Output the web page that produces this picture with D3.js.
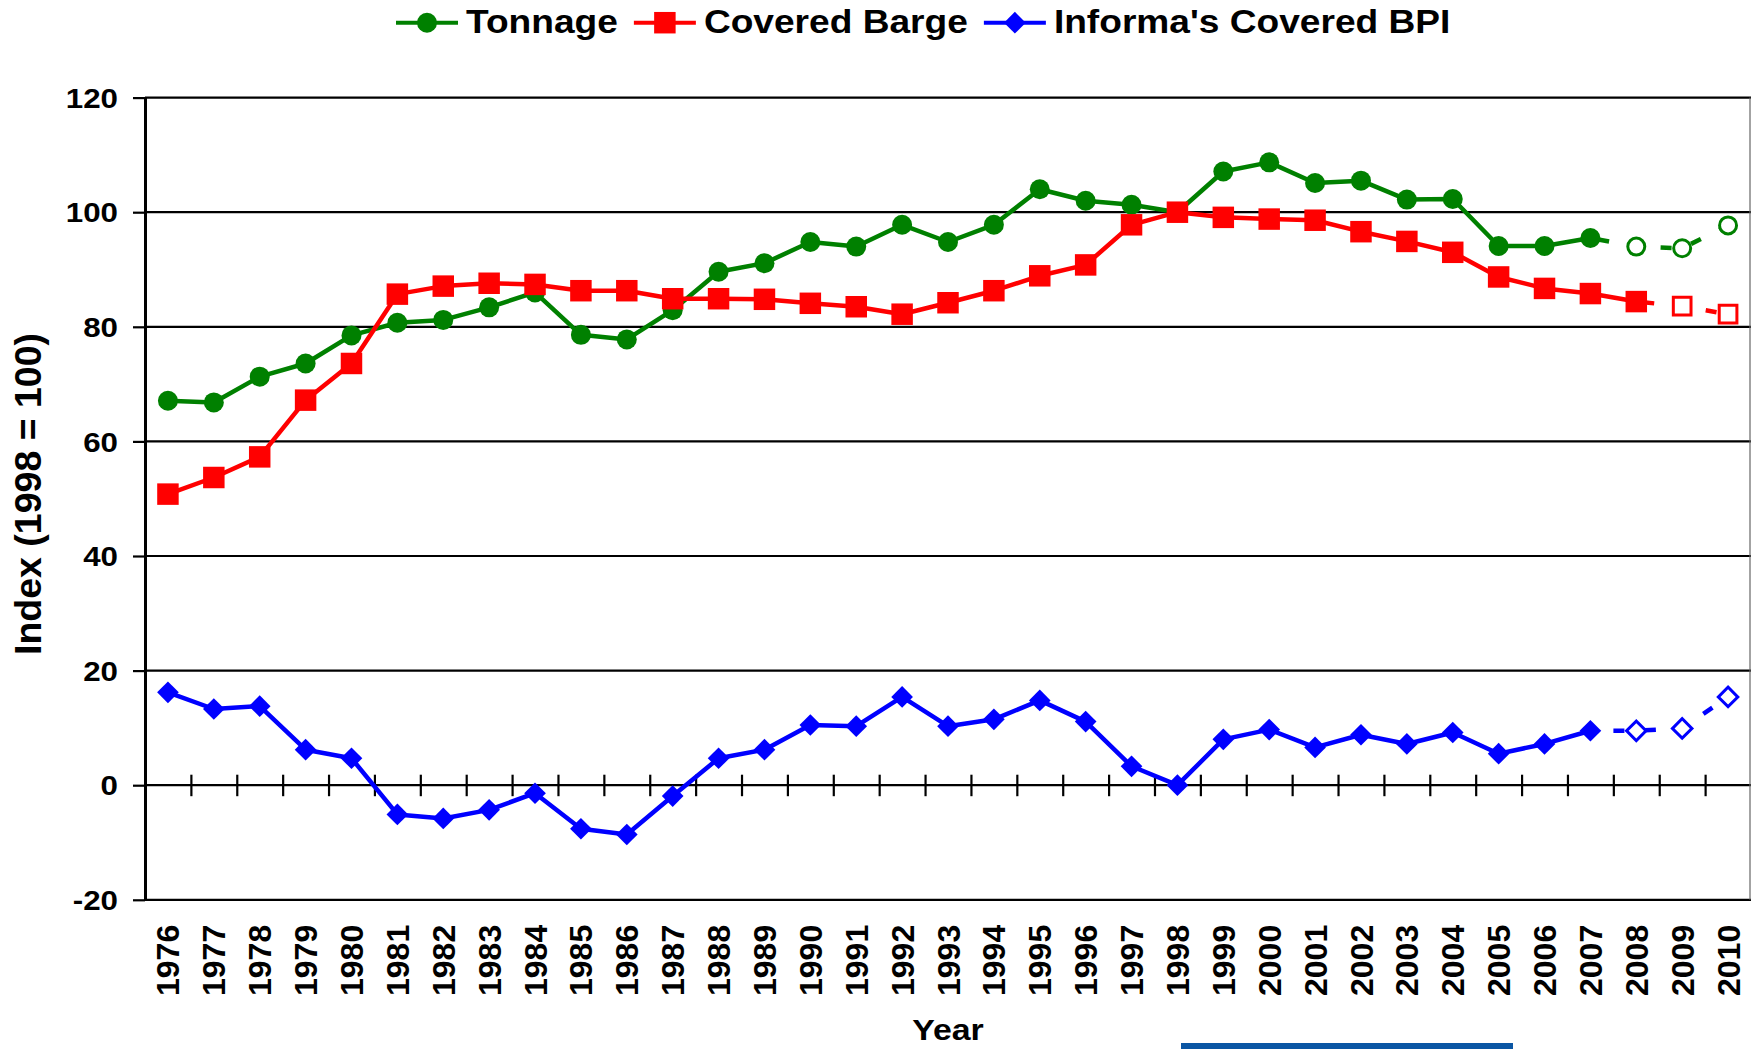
<!DOCTYPE html>
<html>
<head>
<meta charset="utf-8">
<script src="https://cdn.jsdelivr.net/npm/d3@7"></script>
<style>
  body { margin: 0; background: #fff; }
  svg { display: block; }
  text { font-family: "Liberation Sans", Arial, sans-serif; font-weight: bold; fill: #000; }
</style>
</head>
<body>
<div id="chart"></div>
<script>
const years = [1976, 1977, 1978, 1979, 1980, 1981, 1982, 1983, 1984, 1985, 1986, 1987,
    1988, 1989, 1990, 1991, 1992, 1993, 1994, 1995, 1996, 1997, 1998, 1999,
    2000, 2001, 2002, 2003, 2004, 2005, 2006, 2007, 2008, 2009, 2010];

const tonnage = [67.1, 66.8, 71.3, 73.6, 78.5, 80.7, 81.2, 83.4, 86.0, 78.6, 77.8, 82.9,
    89.6, 91.1, 94.8, 94.0, 97.8, 94.8, 97.8, 104.0, 102.0, 101.3, 100.0, 107.1,
    108.7, 105.1, 105.5, 102.2, 102.3, 94.1, 94.1, 95.5, 94.0, 93.7, 97.7];

const coveredBarge = [50.8, 53.7, 57.3, 67.2, 73.6, 85.7, 87.1, 87.6, 87.4, 86.3, 86.3, 84.9,
    84.9, 84.8, 84.1, 83.5, 82.2, 84.2, 86.3, 88.9, 90.8, 97.8, 100.0, 99.1,
    98.8, 98.6, 96.6, 94.9, 93.0, 88.7, 86.7, 85.8, 84.4, 83.6, 82.2];

const coveredBpi = [16.2, 13.3, 13.8, 6.2, 4.7, -5.1, -5.8, -4.3, -1.4, -7.6, -8.6, -1.9,
    4.7, 6.2, 10.5, 10.3, 15.4, 10.3, 11.5, 14.8, 11.1, 3.3, 0.0, 8.0,
    9.7, 6.6, 8.8, 7.2, 9.2, 5.5, 7.2, 9.5, 9.5, 9.9, 15.4];

// last year with actual (non-forecast) values
const tonnageLastActual = 2007;
const bargeLastActual = 2008;
const bpiLastActual = 2007;

const yTicks = [-20, 0, 20, 40, 60, 80, 100, 120];

const width = 1751, height = 1049;
const plotLeft = 145, plotRight = 1751, plotTop = 97.6, plotBottom = 899.8;

const series = [
    { name: "Tonnage", values: tonnage, lastActual: tonnageLastActual, color: "#008000",
      shape: d3.symbolCircle, solidSize: 314, hollowSize: 227, rotate: 0, dashOffset: 23.5 },
    { name: "Covered Barge", values: coveredBarge, lastActual: bargeLastActual, color: "#ff0000",
      shape: d3.symbolSquare, solidSize: 462, hollowSize: 313, rotate: 0, dashOffset: 24.5 },
    { name: "Informa's Covered BPI", values: coveredBpi, lastActual: bpiLastActual, color: "#0000ff",
      shape: d3.symbolSquare, solidSize: 235, hollowSize: 190, rotate: 45, dashOffset: 8.5 }
];

const svg = d3.select("#chart").append("svg")
    .attr("width", width)
    .attr("height", height);

const x = d3.scaleBand().domain(years).range([plotLeft, plotRight]);
const cx = yr => x(yr) + x.bandwidth() / 2;
const y = d3.scaleLinear().domain([-20, 120]).range([plotBottom, plotTop]);

// gridlines
svg.append("g")
    .selectAll("line")
    .data(yTicks)
    .join("line")
    .attr("x1", plotLeft)
    .attr("x2", plotRight)
    .attr("y1", d => y(d))
    .attr("y2", d => y(d))
    .attr("stroke", "#000")
    .attr("stroke-width", 2.2);

// right border
svg.append("line")
    .attr("x1", plotRight - 1)
    .attr("x2", plotRight - 1)
    .attr("y1", plotTop)
    .attr("y2", plotBottom)
    .attr("stroke", "#666")
    .attr("stroke-width", 1.2);

// y axis
const yAxis = svg.append("g")
    .attr("transform", `translate(${plotLeft},0)`)
    .call(d3.axisLeft(y).tickValues(yTicks).tickFormat(d => String(d)).tickSize(12).tickSizeOuter(0));
yAxis.select(".domain").attr("stroke-width", 3);
yAxis.selectAll(".tick line").attr("stroke-width", 2.2);
yAxis.selectAll(".tick text")
    .attr("x", null)
    .attr("dy", "0.36em")
    .attr("transform", `translate(-27,0) scale(1.16,1)`)
    .style("font-size", "27px")
    .style("font-family", "'Liberation Sans', Arial, sans-serif")
    .style("font-weight", "bold")
    .attr("fill", "#000");

// zero line ticks, at category boundaries
const boundary = d3.scaleLinear().domain([0, years.length]).range([plotLeft, plotRight]);
const zeroAxis = svg.append("g")
    .attr("transform", `translate(0,${y(0)})`)
    .call(d3.axisBottom(boundary).tickValues(d3.range(1, years.length)).tickFormat("").tickSizeOuter(0));
zeroAxis.select(".domain").remove();
zeroAxis.selectAll(".tick line").attr("y1", -10.5).attr("y2", 11).attr("stroke-width", 2.2);

// x labels at bottom
const xAxis = svg.append("g")
    .attr("transform", `translate(0,${plotBottom})`)
    .call(d3.axisBottom(x).tickSize(0));
xAxis.select(".domain").remove();
xAxis.selectAll(".tick text")
    .attr("y", null)
    .attr("dy", "0.36em")
    .attr("text-anchor", "end")
    .attr("transform", "translate(0,25) rotate(-90)")
    .style("font-size", "32px")
    .style("font-family", "'Liberation Sans', Arial, sans-serif")
    .style("font-weight", "bold")
    .attr("fill", "#000");

// axis titles
svg.append("text")
    .attr("transform", "translate(41,494) rotate(-90)")
    .attr("text-anchor", "middle")
    .style("font-size", "37.5px")
    .text("Index (1998 = 100)");

svg.append("text")
    .attr("transform", `translate(${(plotLeft + plotRight) / 2},1040) scale(1.13,1)`)
    .attr("text-anchor", "middle")
    .style("font-size", "30px")
    .text("Year");

// series
const line = d3.line()
    .x(d => cx(d.year))
    .y(d => y(d.value));

series.forEach(s => {
    const pts = years.map((yr, i) => ({ year: yr, value: s.values[i] }));
    const actual = pts.filter(d => d.year <= s.lastActual);
    const forecast = pts.filter(d => d.year >= s.lastActual);
    const g = svg.append("g");

    g.append("path")
        .datum(actual)
        .attr("d", line)
        .attr("fill", "none")
        .attr("stroke", s.color)
        .attr("stroke-width", 4.5)
        .attr("stroke-linejoin", "round");

    g.append("path")
        .datum(forecast)
        .attr("d", line)
        .attr("fill", "none")
        .attr("stroke", s.color)
        .attr("stroke-width", 4.5)
        .attr("stroke-dasharray", "11,20.5")
        .attr("stroke-dashoffset", s.dashOffset);

    g.selectAll("path.marker")
        .data(pts)
        .join("path")
        .attr("class", "marker")
        .attr("transform", d => `translate(${cx(d.year)},${y(d.value)}) rotate(${s.rotate})`)
        .attr("d", d => d3.symbol(s.shape, d.year > s.lastActual ? s.hollowSize : s.solidSize)())
        .attr("fill", d => d.year > s.lastActual ? "#fff" : s.color)
        .attr("stroke", d => d.year > s.lastActual ? s.color : "none")
        .attr("stroke-width", 3);
});

// legend
const legend = svg.append("g");
let lx = 396;
series.forEach(s => {
    const g = legend.append("g");
    g.append("line")
        .attr("x1", lx).attr("x2", lx + 62)
        .attr("y1", 22.7).attr("y2", 22.7)
        .attr("stroke", s.color)
        .attr("stroke-width", 4);
    g.append("path")
        .attr("transform", `translate(${lx + 31},22.7) rotate(${s.rotate})`)
        .attr("d", d3.symbol(s.shape, s.solidSize)())
        .attr("fill", s.color);
    const t = g.append("text")
        .attr("transform", `translate(${lx + 70},33) scale(1.125,1)`)
        .style("font-size", "33px")
        .text(s.name);
    lx += 70 + t.node().getComputedTextLength() * 1.125 + 16;
});

// footer strip
svg.append("rect")
    .attr("x", 1181)
    .attr("y", 1043)
    .attr("width", 332)
    .attr("height", 6)
    .attr("fill", "#0b56a4");
</script>
</body>
</html>
